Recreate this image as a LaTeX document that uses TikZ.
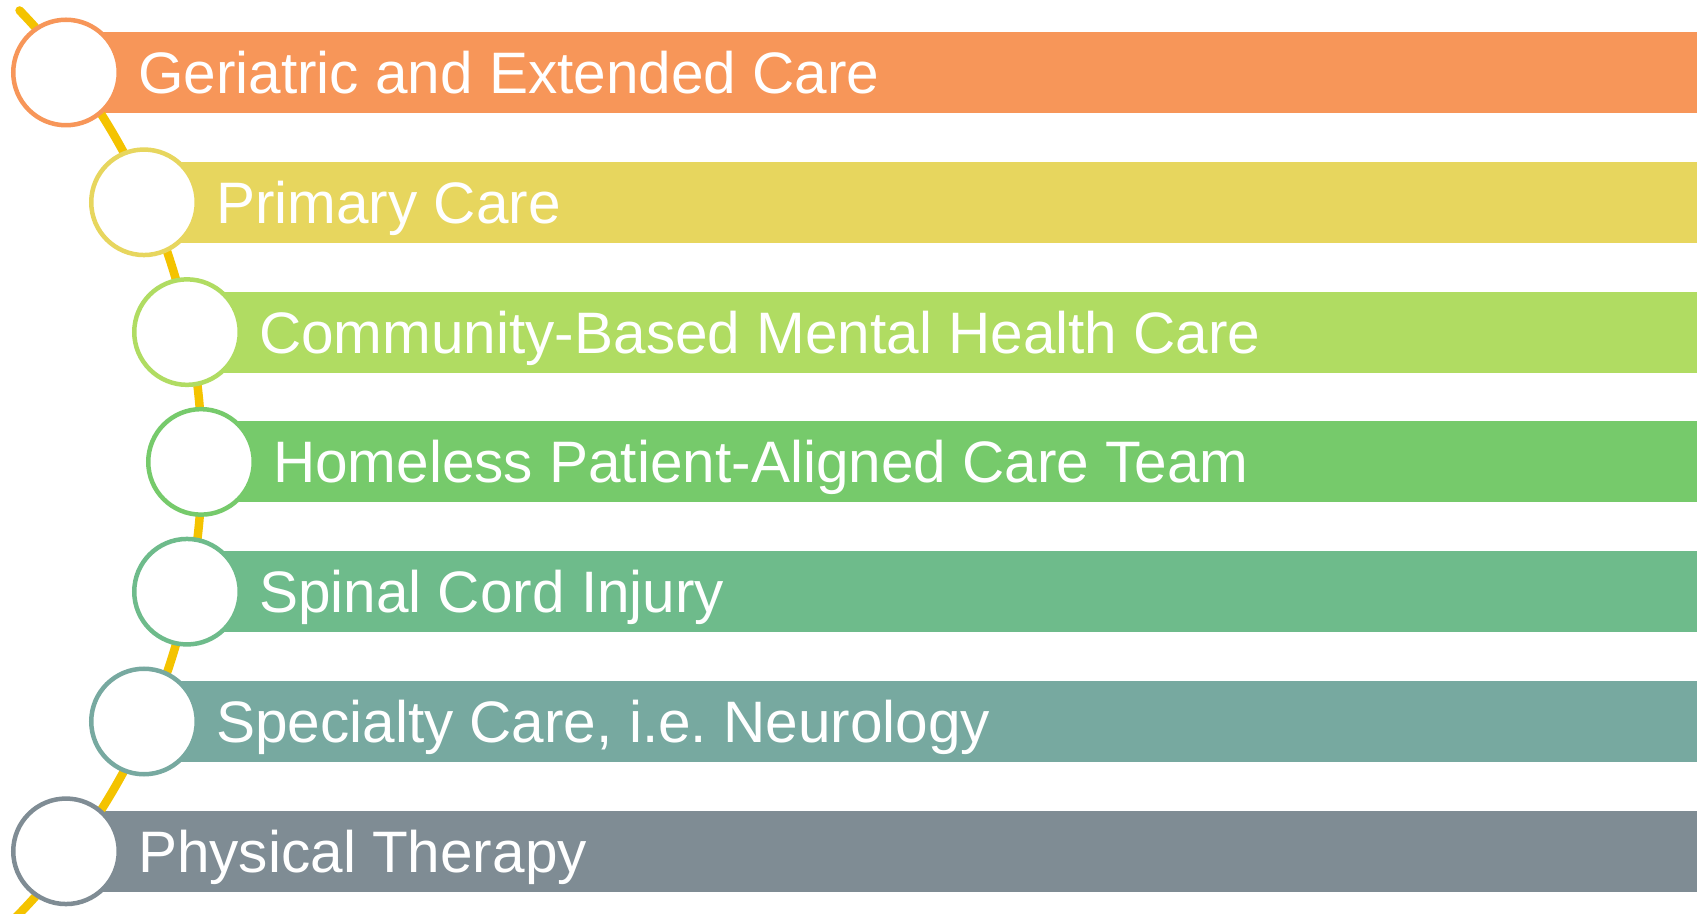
\documentclass[tikz,border=0pt]{standalone}
\usepackage{fontspec}
\setmainfont{Liberation Sans}
\frenchspacing
\definecolor{geriatric}{RGB}{247,150,89}
\definecolor{primary}{RGB}{231,214,94}
\definecolor{community}{RGB}{176,220,98}
\definecolor{homeless}{RGB}{118,202,107}
\definecolor{spinal}{RGB}{110,187,139}
\definecolor{specialty}{RGB}{119,169,160}
\definecolor{physical}{RGB}{127,140,148}
\definecolor{spineyellow}{RGB}{244,195,0}
\begin{document}
\begin{tikzpicture}[x=1pt,y=1pt,
  bar/.style={fill=#1, draw=none},
  ring/.style={circle, draw=#1, line width=4.5pt, fill=white,
               minimum size=105.5pt, inner sep=0pt},
  caption/.style={anchor=base west, text=white, inner sep=0pt,
                  font=\fontsize{58.5}{70}\selectfont},
  spine/.style={draw=spineyellow, line width=8.5pt, line cap=round}]
\useasboundingbox (0,0) rectangle (1697,913);
\fill[white] (0,0) rectangle (1697,913);

% rows: name / colour / circle x / centre y / label
\def\rows{geriatric/66/840.5/Geriatric and Extended Care,
          primary/144/710.7/Primary Care,
          community/187/580.9/Community-Based Mental Health Care,
          homeless/201/451.1/Homeless Patient-Aligned Care Team,
          spinal/187/321.3/Spinal Cord Injury,
          specialty/144/191.5/{Specialty Care, i.e. Neurology},
          physical/66/61.7/Physical Therapy}

% coloured bands
\foreach \n/\cx/\cy/\t in \rows {
  \fill[bar=\n] (\cx,\cy-40.5) rectangle (1700,\cy+40.5);
}

% curved spine running behind the circles
\coordinate (spinecentre) at (-448,451);
\draw[spine] (spinecentre) ++(44:650) arc[start angle=44, end angle=-45, radius=650];

% circles and labels
\foreach \n/\cx/\cy/\t in \rows {
  \node[ring=\n] (\n-dot) at (\cx,\cy) {};
  \node[caption] (\n-label) at (\cx+72,\cy-21) {\t};
}
\end{tikzpicture}
\end{document}
